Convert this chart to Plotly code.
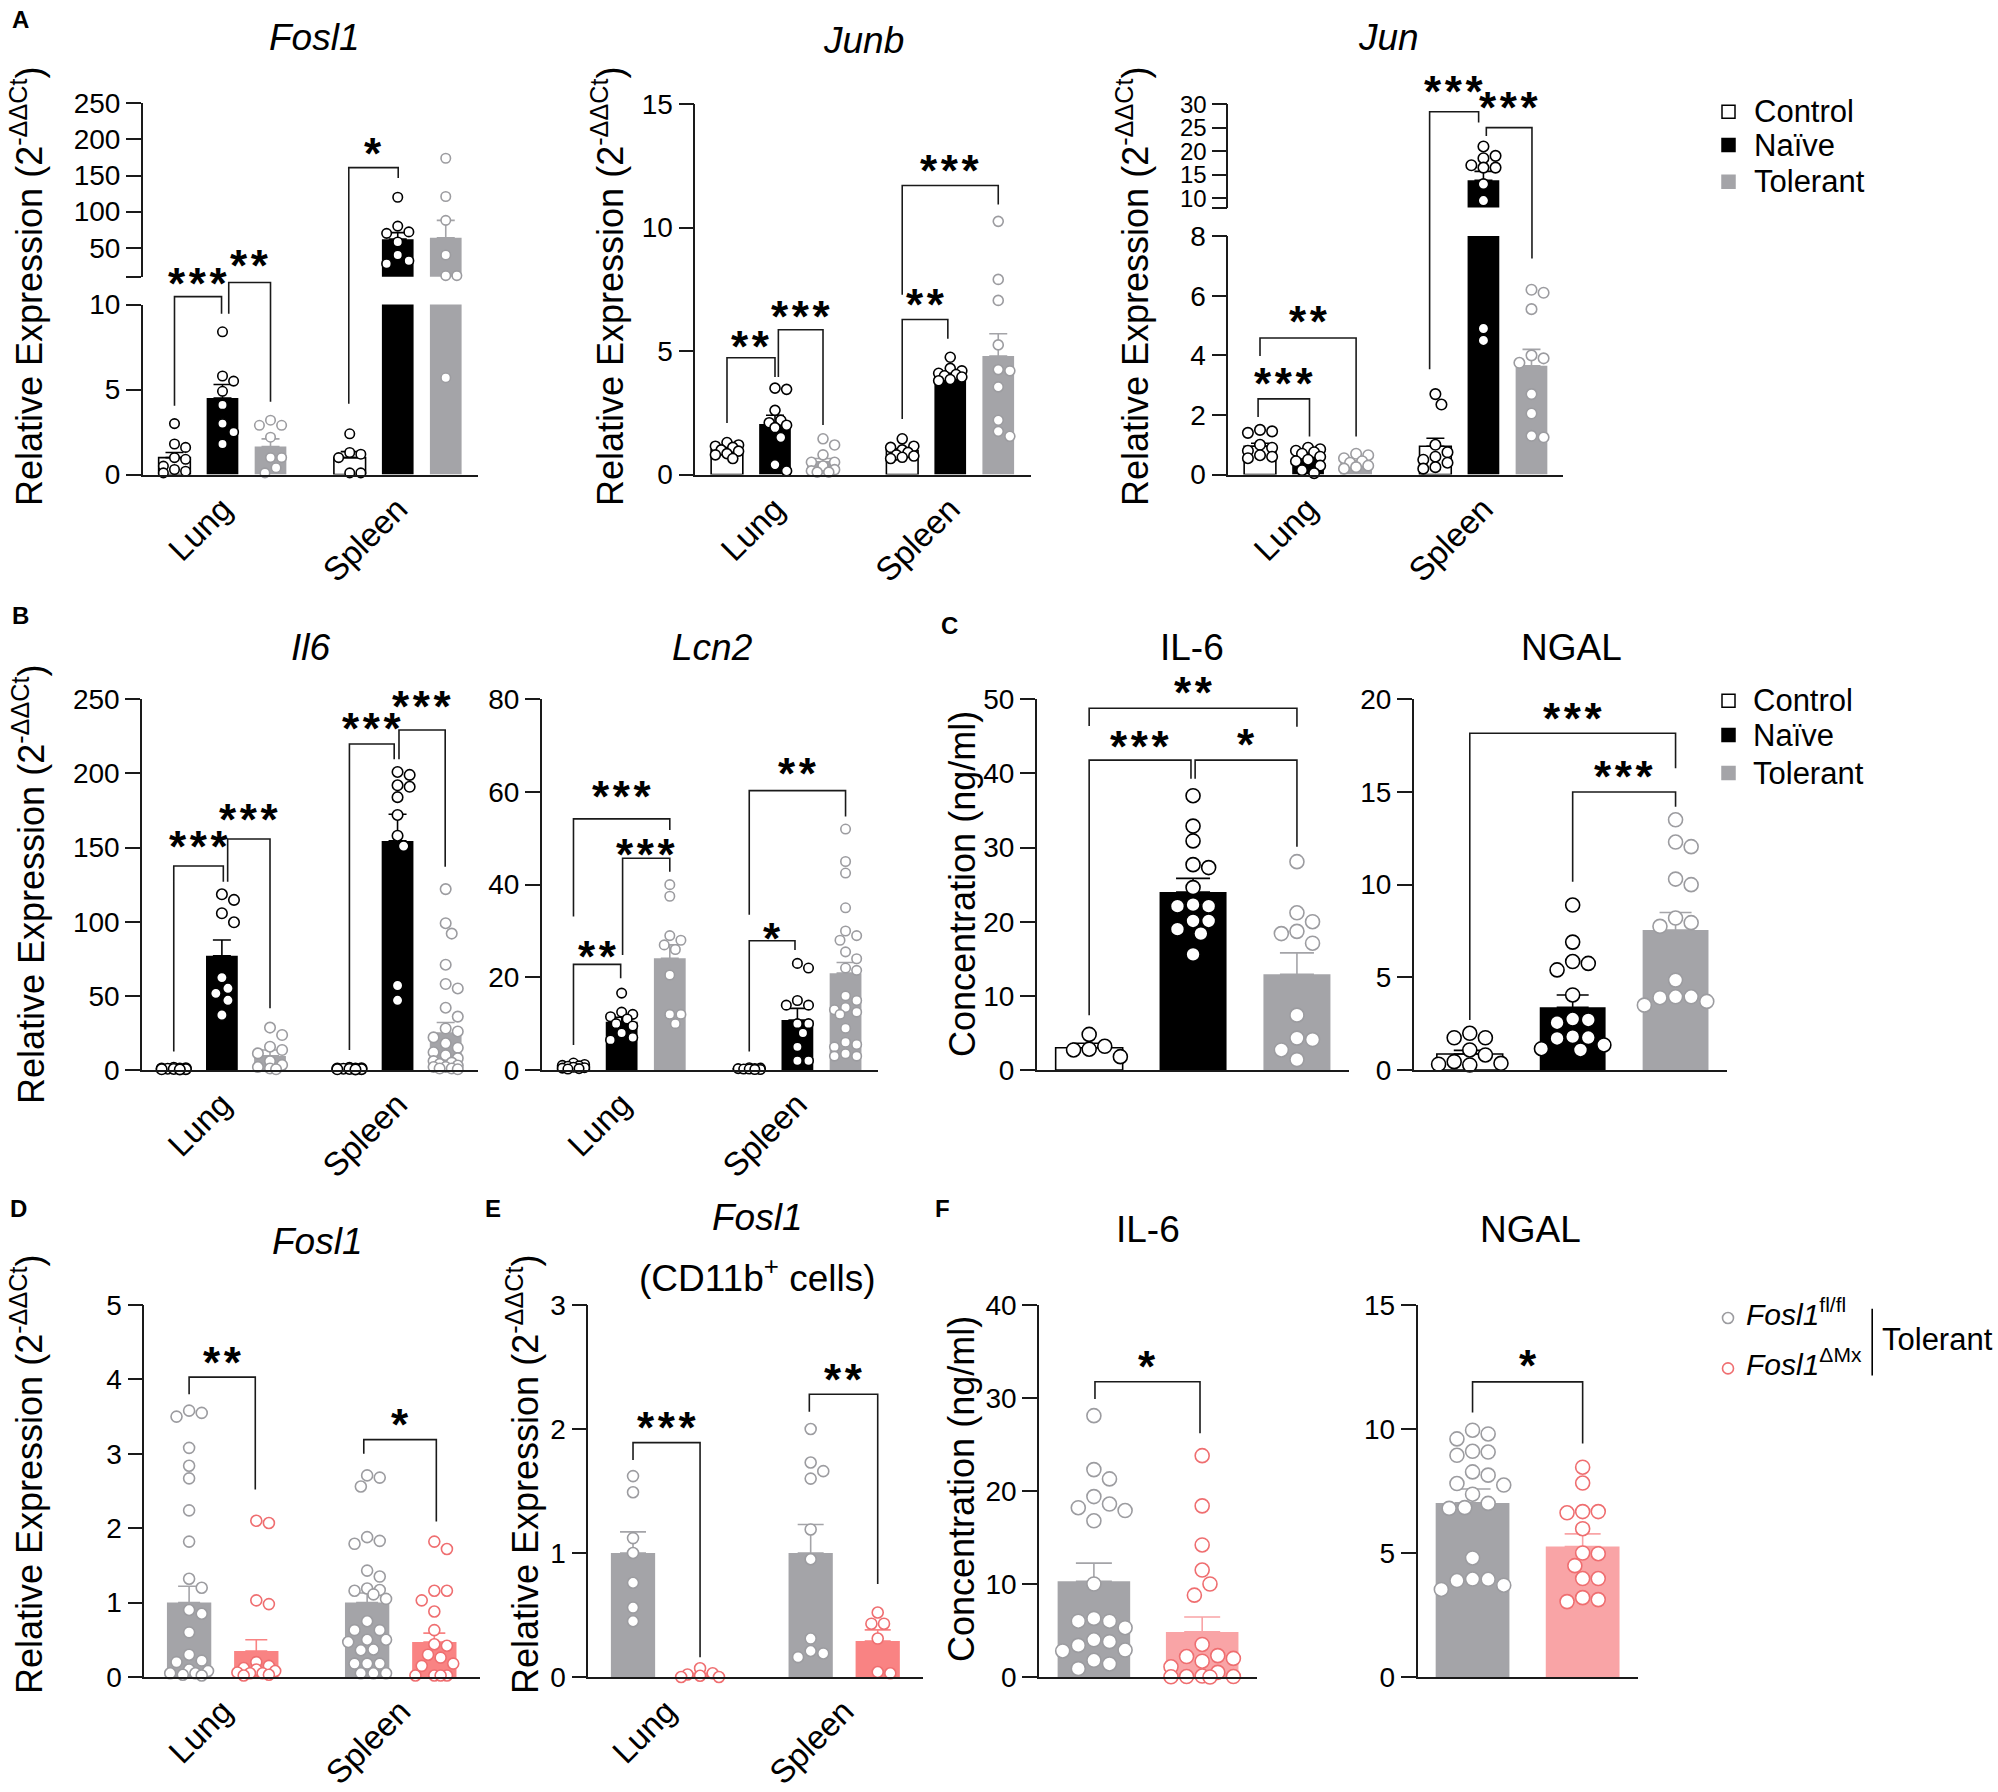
import plotly.graph_objects as go

W, H = 1998, 1792
FONT = "Liberation Sans, Arial, Helvetica, sans-serif"

# ============ values ============
# tissue panels: rows = [Lung, Spleen], columns = [Control, Naive, Tolerant]
fosl1_means = [[1.0, 4.5, 1.65], [1.0, 62.0, 64.0]]
fosl1_sems = [[0.3, 0.8, 0.45], [0.35, 9.0, 24.0]]
fosl1_lung_pts = [[3.0, 1.8, 1.6, 1.0, 0.9, 0.5, 0.3, 0.2, 0.1],
                  [8.4, 5.8, 5.5, 4.9, 4.1, 3.0, 2.5, 1.8],
                  [3.2, 2.9, 2.9, 2.2, 1.0, 1.0, 0.4, 0.1]]
fosl1_spleen_pts = [[2.4, 1.3, 1.2, 1.0, 0.1, 0.1],
                    [120, 80, 72, 70, 58, 40, 32, 28],
                    [174, 121, 88, 40, 11.5, 11.5, 5.7]]

junb_means = [[1.0, 2.05, 0.52], [0.97, 4.05, 4.8]]
junb_sems = [[0.08, 0.35, 0.13], [0.07, 0.1, 0.9]]
junb_lung_pts = [[1.3, 1.2, 1.15, 1.1, 1.0, 0.95, 0.85, 0.8, 0.65],
                 [3.5, 3.45, 2.6, 2.2, 2.1, 2.0, 1.9, 1.5, 0.4, 0.15],
                 [1.45, 1.2, 0.8, 0.5, 0.5, 0.35, 0.2, 0.15, 0.1, 0.1]]
junb_spleen_pts = [[1.45, 1.15, 1.1, 1.0, 0.9, 0.8, 0.75, 0.7, 0.65],
                   [4.75, 4.3, 4.2, 4.1, 4.05, 4.0, 3.95, 3.85, 3.8],
                   [10.25, 7.9, 7.05, 5.25, 4.25, 4.2, 3.55, 2.2, 1.75, 1.55]]

jun_means = [[0.95, 0.6, 0.4], [0.95, 13.8, 3.65]]
jun_sems = [[0.1, 0.08, 0.06], [0.27, 1.9, 0.55]]
jun_lung_pts = [[1.5, 1.45, 1.4, 1.0, 0.9, 0.8, 0.65, 0.6, 0.55],
                [0.9, 0.85, 0.8, 0.75, 0.7, 0.6, 0.5, 0.45, 0.3, 0.15, 0.05],
                [0.7, 0.65, 0.55, 0.45, 0.4, 0.3, 0.25, 0.2]]
jun_spleen_pts = [[2.7, 2.35, 1.0, 0.75, 0.6, 0.5, 0.4, 0.25, 0.2],
                  [21, 19, 18.5, 17, 16.5, 16.5, 13, 9.5, 4.9, 4.5],
                  [6.2, 6.1, 5.55, 4.0, 3.9, 3.75, 2.7, 2.05, 1.3, 1.25]]

il6_means = [[0.9, 77.0, 9.5], [0.8, 154.5, 25.0]]
il6_sems = [[0.2, 10.7, 4.0], [0.15, 18.0, 7.0]]
il6_lung_pts = [[1.5, 1.2, 1.0, 0.9, 0.8, 0.7, 0.6, 0.5, 0.4],
                [118.5, 114.7, 105.7, 99.6, 62.3, 55.1, 51.7, 47.0, 37.1],
                [28.6, 23.6, 15.7, 13.5, 11.2, 6.0, 3.4, 2.0, 1.0, 0.5]]
il6_spleen_pts = [[1.4, 1.1, 1.0, 0.9, 0.8, 0.7, 0.6, 0.5, 0.4],
                  [201, 199, 192, 191, 184, 172, 158, 151, 57, 47],
                  [122, 99, 92, 71, 58, 55, 42, 36, 28, 26, 22, 18, 15, 12, 10, 8, 6, 5, 4, 3, 2, 2, 1, 1, 0.5]]

lcn2_means = [[0.8, 10.4, 24.1], [0.25, 10.8, 20.9]]
lcn2_sems = [[0.15, 1.0, 2.9], [0.05, 2.5, 2.3]]
lcn2_lung_pts = [[1.5, 1.2, 1.0, 0.9, 0.8, 0.6, 0.5, 0.4, 0.3, 0.2],
                 [16.6, 12.5, 12.0, 11.5, 11.0, 10.0, 9.5, 8.0, 7.0, 6.5],
                 [40.0, 37.5, 29.0, 28.0, 27.0, 26.0, 20.5, 12.0, 12.0, 10.0]]
lcn2_spleen_pts = [[0.5, 0.4, 0.3, 0.3, 0.2, 0.2, 0.1, 0.1],
                   [23, 22, 15, 14, 14, 10, 10, 8, 5, 2, 2],
                   [52, 45, 42.5, 35, 30, 29, 28, 25.5, 24, 22, 21.5, 16, 15, 13.5, 13, 12.5, 12, 9, 6, 5.5, 5, 3.5, 3, 3]]

# serum panels (C): [Control, Naive, Tolerant]
il6_serum_means = [3.0, 24.0, 12.9]
il6_serum_sems = [0.6, 1.85, 2.9]
il6_serum_pts = [[4.8, 3.2, 2.8, 2.7, 1.8],
                 [37, 32.9, 30.9, 27.7, 27.3, 24.6, 22.3, 22.1, 22.1, 20.1, 20.1, 19.0, 18.4, 15.6],
                 [28.1, 21.2, 20.0, 18.7, 18.4, 17.1, 7.4, 4.3, 4.1, 2.7, 1.4]]
ngal_serum_means = [0.86, 3.38, 7.55]
ngal_serum_sems = [0.2, 0.67, 0.95]
ngal_serum_pts = [[1.98, 1.74, 1.74, 1.08, 0.81, 0.45, 0.36, 0.31, 0.27],
                  [8.9, 6.9, 5.85, 5.75, 5.4, 4.05, 2.75, 2.7, 2.55, 1.8, 1.75, 1.7, 1.35, 1.15, 1.08],
                  [13.5, 12.3, 12.05, 10.3, 10.0, 8.2, 7.95, 7.75, 4.85, 3.95, 3.95, 3.9, 3.7, 3.5]]

# D / E: rows = [Lung, Spleen], columns = [Fosl1 fl/fl, Fosl1 dMx]
d_fosl1_means = [[1.0, 0.35], [1.0, 0.47]]
d_fosl1_sems = [[0.22, 0.15], [0.13, 0.12]]
d_fosl1_lung_pts = [[3.58, 3.55, 3.5, 3.08, 2.84, 2.67, 2.24, 1.82, 1.32, 1.2, 0.9, 0.85, 0.6, 0.3, 0.22, 0.2,
                     0.1, 0.08, 0.05, 0.05, 0.03, 0.02],
                    [2.1, 2.07, 1.03, 0.98, 0.2, 0.15, 0.12, 0.1, 0.08, 0.06, 0.05, 0.05, 0.03, 0.02]]
d_fosl1_spleen_pts = [[2.71, 2.68, 2.56, 1.88, 1.83, 1.79, 1.43, 1.35, 1.19, 1.17, 1.16, 1.11, 1.05, 0.75, 0.63,
                       0.63, 0.5, 0.5, 0.47, 0.37, 0.36, 0.18, 0.18, 0.18, 0.05, 0.05, 0.05],
                      [1.82, 1.72, 1.16, 1.16, 1.03, 0.88, 0.63, 0.44, 0.42, 0.3, 0.26, 0.18, 0.15, 0.02, 0.02,
                       0.02, 0.02]]
e_fosl1_means = [[1.0, 0.02], [1.0, 0.29]]
e_fosl1_sems = [[0.17, 0.01], [0.23, 0.09]]
e_fosl1_lung_pts = [[1.62, 1.49, 1.12, 1.0, 0.76, 0.56, 0.45],
                    [0.07, 0.03, 0.02, 0.01, 0.0, 0.0]]
e_fosl1_spleen_pts = [[2.0, 1.73, 1.66, 1.6, 1.19, 0.95, 0.31, 0.21, 0.19, 0.16],
                      [0.52, 0.43, 0.43, 0.31, 0.04, 0.03]]

# F: [Fosl1 fl/fl, Fosl1 dMx]
f_il6_means = [10.3, 4.85]
f_il6_sems = [1.95, 1.6]
f_il6_pts = [[28.1, 22.3, 21.3, 19.4, 18.6, 18.2, 17.9, 16.8, 10.0, 6.3, 6.0, 6.0, 5.3, 4.0, 3.8, 3.4, 2.9, 2.8,
              1.8, 1.4, 0.9],
             [23.8, 18.4, 14.2, 11.5, 10.0, 8.8, 3.5, 2.3, 2.2, 2.0, 1.7, 1.1, 0.5, 0.1, 0.05, 0.05, 0.02, 0.0]]
f_ngal_means = [7.02, 5.26]
f_ngal_sems = [0.56, 0.51]
f_ngal_pts = [[9.95, 9.8, 9.6, 9.1, 9.07, 8.94, 8.27, 8.14, 7.8, 7.74, 7.37, 7.0, 6.83, 6.8, 4.8, 3.95, 3.94,
               3.89, 3.7, 3.53],
              [8.46, 7.82, 6.67, 6.67, 6.62, 5.98, 5.0, 4.97, 4.49, 3.97, 3.97, 3.2, 3.12, 3.04]]

# significance brackets: (x left, x right, top, left leg end, right leg end, stars, star level)
fosl1_sig = [(0, 0.98, 10.47, 4.05, 9.46, "***", 11.82), (1.13, 2.0, 11.3, 9.46, 4.28, "**", 12.9),
             (3.63, 4.66, 18.06, 4.17, 17.45, "*", 19.5)]
junb_sig = [(0, 1.0, 4.73, 2.09, 3.95, "**", 5.58), (1.07, 2.0, 5.86, 3.95, 2.01, "***", 6.82),
            (3.65, 4.6, 6.28, 2.25, 5.5, "**", 7.28), (3.65, 5.65, 11.7, 7.28, 10.93, "***", 12.7)]
jun_sig = [(-0.04, 1.03, 2.54, 1.93, 1.28, "***", 3.4), (0.0, 2.0, 4.58, 3.98, 1.28, "**", 5.46),
           (3.53, 4.55, 12.17, 3.53, 11.81, "***", 13.2), (4.71, 5.66, 11.64, 11.36, 7.25, "***", 12.64)]
il6_sig = [(0, 1.03, 137.6, 12.4, 127.0, "***", 157.4), (1.12, 2.0, 155.8, 127.0, 41.6, "***", 175.4),
           (3.65, 4.58, 219.9, 13.5, 209.5, "***", 237.2), (4.68, 5.64, 229.3, 209.5, 137.1, "***", 251.8)]
lcn2_sig = [(0, 0.98, 22.8, 5.4, 19.8, "**", 26.6), (1.02, 2.0, 45.7, 24.8, 42.8, "***", 48.6),
            (0, 2.0, 54.2, 33.1, 51.8, "***", 61.2), (3.65, 4.6, 27.9, 4.0, 25.9, "*", 30.6),
            (3.65, 5.65, 60.3, 33.5, 54.7, "**", 66.2)]
il6_serum_sig = [(0, 2.0, 48.8, 46.4, 46.3, "**", 52.2), (0, 0.98, 41.8, 7.4, 39.3, "***", 45.05),
                 (1.02, 2.0, 41.8, 39.3, 30.1, "*", 45.2)]
ngal_serum_sig = [(0, 2.0, 18.17, 2.7, 16.28, "***", 19.5), (1.0, 2.0, 15.0, 10.16, 14.2, "***", 16.37)]
d_sig = [(0, 0.985, 4.03, 3.8, 2.52, "**", 4.36), (2.6, 3.68, 3.19, 3.0, 2.09, "*", 3.53)]
e_sig = [(0, 1.0, 1.89, 1.75, 0.16, "***", 2.09), (2.63, 3.65, 2.28, 2.14, 0.75, "**", 2.48)]
f_il6_sig = [(0.01, 0.98, 31.75, 29.9, 26.2, "*", 34.5)]
f_ngal_sig = [(0, 1.0, 11.9, 10.67, 9.42, "*", 12.95)]

tissues = ["Lung", "Spleen"]

# ============ styling ============
GRAY = "#A4A4A8"
GRAY_PT = "#9C9CA0"
PINK = "#F98383"
PINK_LIGHT = "#F9A4A6"
PINK_PT = "#EF6E70"
LINE = "#1A1A1A"

# fill, edge/error colour, outline width, point outline
STYLES = {
    "ctrl": ("white", "black", 1.6, "black"),
    "naive": ("black", "black", 0, "black"),
    "tol": (GRAY, GRAY, 0, GRAY_PT),
    "dmx": (PINK, PINK, 0, PINK_PT),
    "dmxF": (PINK_LIGHT, PINK_LIGHT, 0, PINK_PT),
}

POS3 = [[0, 1, 2], [3.65, 4.65, 5.65]]
POS2 = [[0, 1], [2.65, 3.65]]
XR3 = [-0.66, 6.33]
XR2 = [-0.667, 4.33]

fig = go.Figure()
axes_layout = {}
shapes = []
annotations = []
n_axes = [0]


def make_axes(x0, x1, ybot, ytop, xr, yr):
    n_axes[0] += 1
    s = "" if n_axes[0] == 1 else str(n_axes[0])
    hidden = dict(showgrid=False, zeroline=False, showline=False, ticks="", showticklabels=False,
                  fixedrange=True, automargin=False)
    axes_layout["xaxis" + s] = dict(domain=[x0 / W, x1 / W], range=list(xr), anchor="y" + s, **hidden)
    axes_layout["yaxis" + s] = dict(domain=[1 - ybot / H, 1 - ytop / H], range=list(yr), anchor="x" + s,
                                    **hidden)
    return "x" + s, "y" + s, "xaxis" + s, "yaxis" + s


def swarm(vals, sx, ypx, d, max_px):
    # simple deterministic beeswarm: spread overlapping dots sideways
    order = sorted(range(len(vals)), key=lambda i: -vals[i])
    step = d * 0.5
    cands = [0.0]
    k = 1
    while k * step <= max_px:
        cands += [k * step, -k * step]
        k += 1
    placed = []
    offs = [0.0] * len(vals)
    for i in order:
        y = ypx(vals[i])

        def gap(c):
            return min([((c - a) ** 2 + (y - b) ** 2) ** 0.5 for a, b in placed], default=1e9)

        chosen = next((c for c in cands if gap(c) >= d * 0.95), None)
        if chosen is None:
            chosen = max(cands, key=gap)
        placed.append((chosen, y))
        offs[i] = chosen / sx
    return offs


def tissue_groups(means, sems, lung_pts, spleen_pts, styles, pos):
    return [dict(pos=[pos[0][g], pos[1][g]], mean=[means[0][g], means[1][g]], sem=[sems[0][g], sems[1][g]],
                 pts=[lung_pts[g], spleen_pts[g]], style=st) for g, st in enumerate(styles)]


def single_groups(means, sems, pts, styles):
    return [dict(pos=[g], mean=[means[g]], sem=[sems[g]], pts=[pts[g]], style=st)
            for g, st in enumerate(styles)]


def panel(x0, x1, xr, segs, groups, bar_w, msize, cap, sig, xticks=None, top_pad=85):
    # segs: (bottom px, top px, value range, tick values, tick texts[, tick font size]) from bottom up
    sx = (x1 - x0) / (xr[1] - xr[0])
    base = segs[0][0]

    def ypx(v):
        for i, seg in enumerate(segs):
            yb, yt, yr = seg[:3]
            if v <= yr[1] or i == len(segs) - 1:
                return (base - yb) + (max(v, yr[0]) - yr[0]) * (yb - yt) / (yr[1] - yr[0])

    d = msize + 1.6
    offsets = [[swarm(p, sx, ypx, d, bar_w * sx * 0.5) for p in g["pts"]] for g in groups]

    for i, seg in enumerate(segs):
        yb, yt, yr, tv, tt = seg[:5]
        fs = seg[5] if len(seg) > 5 else 28
        xa, ya, xk, yk = make_axes(x0, x1, yb, yt, xr, yr)
        axes_layout[yk].update(showline=True, linecolor=LINE, linewidth=1.6, ticks="outside", ticklen=15,
                               tickwidth=1.6, tickcolor=LINE, showticklabels=True, tickmode="array",
                               tickvals=tv, ticktext=tt if tt else [str(t) for t in tv],
                               tickfont=dict(family=FONT, size=fs, color="black"))
        if i == 0:
            axes_layout[xk].update(showline=True, linecolor=LINE, linewidth=1.6)
            if xticks:
                axes_layout[xk].update(showticklabels=True, tickmode="array", tickvals=xticks, ticktext=tissues,
                                       tickangle=-45, tickfont=dict(family=FONT, size=33, color="black"))
        lo = segs[i - 1][2][1] if i > 0 else -1e9
        hi = yr[1] if i < len(segs) - 1 else 1e9
        for g, offs in zip(groups, offsets):
            fill, edge, lw, ptc = STYLES[g["style"]]
            fig.add_trace(go.Bar(
                x=g["pos"], y=g["mean"], width=bar_w, xaxis=xa, yaxis=ya,
                marker=dict(color=fill, line=dict(color=edge, width=lw)),
                error_y=dict(type="data", symmetric=False, array=g["sem"], arrayminus=[0] * len(g["sem"]),
                             color=edge, thickness=1.6, width=cap),
                hoverinfo="skip", showlegend=False))
            xs, ys = [], []
            for pos, vals, off in zip(g["pos"], g["pts"], offs):
                for v, o in zip(vals, off):
                    if lo < v <= hi:
                        xs.append(pos + o)
                        ys.append(v)
            fig.add_trace(go.Scatter(
                x=xs, y=ys, mode="markers", xaxis=xa, yaxis=ya, cliponaxis=False,
                marker=dict(symbol="circle", size=msize, color="white", line=dict(color=ptc, width=1.6)),
                hoverinfo="skip", showlegend=False))

    # overlay axis (same units as the lowest segment) for the significance brackets
    yb0, yt0, yr0 = segs[0][:3]
    ppu = (yb0 - yt0) / (yr0[1] - yr0[0])
    top = min(s[1] for s in segs) - top_pad
    xa, ya, _, _ = make_axes(x0, x1, yb0, top, xr, [yr0[0], yr0[0] + (yb0 - top) / ppu])
    for xl, xrr, ytop, yl, yrr, stars, ylab in sig:
        shapes.append(dict(type="path", xref=xa, yref=ya, layer="above",
                           path=f"M{xl},{yl} L{xl},{ytop} L{xrr},{ytop} L{xrr},{yrr}",
                           line=dict(color=LINE, width=1.6)))
        annotations.append(dict(xref=xa, yref=ya, x=(xl + xrr) / 2, y=ylab, showarrow=False,
                                xanchor="center", yanchor="middle",
                                text="<b>" + "\u200a".join(stars) + "</b>", yshift=-10,
                                font=dict(family=FONT, size=44, color="black")))


CTL3 = ["ctrl", "naive", "tol"]

# ---- A ----
panel(142.8, 478.4, XR3,
      [(474.6, 304.6, [0, 10], [0, 5, 10], None),
       (276.7, 103.3, [10, 250], [10, 50, 100, 150, 200, 250], ["", "50", "100", "150", "200", "250"])],
      tissue_groups(fosl1_means, fosl1_sems, fosl1_lung_pts, fosl1_spleen_pts, CTL3, POS3),
      0.66, 9.5, 9, fosl1_sig, xticks=[1, 4.65])
panel(695.3, 1030.9, XR3, [(474.6, 104.0, [0, 15], [0, 5, 10, 15], None)],
      tissue_groups(junb_means, junb_sems, junb_lung_pts, junb_spleen_pts, CTL3, POS3),
      0.66, 10, 9, junb_sig, xticks=[1, 4.65])
panel(1228.3, 1563.2, [-0.66, 6.31],
      [(474.6, 236.1, [0, 8], [0, 2, 4, 6, 8], None),
       (207.6, 104.1, [8, 30], [8, 10, 15, 20, 25, 30], ["", "10", "15", "20", "25", "30"], 24)],
      tissue_groups(jun_means, jun_sems, jun_lung_pts, jun_spleen_pts, CTL3, POS3),
      0.66, 10.5, 9, jun_sig, xticks=[1, 4.65])

# ---- B ----
panel(142.0, 478.4, XR3, [(1070, 699.3, [0, 250], [0, 50, 100, 150, 200, 250], None)],
      tissue_groups(il6_means, il6_sems, il6_lung_pts, il6_spleen_pts, CTL3, POS3),
      0.66, 10.5, 9, il6_sig, xticks=[1, 4.65])
panel(541.7, 878.3, XR3, [(1070, 699.3, [0, 80], [0, 20, 40, 60, 80], None)],
      tissue_groups(lcn2_means, lcn2_sems, lcn2_lung_pts, lcn2_spleen_pts, CTL3, POS3),
      0.66, 9.5, 9, lcn2_sig, xticks=[1, 4.65])

# ---- C ----
panel(1036.7, 1349.4, [-0.505, 2.505], [(1070, 699.3, [0, 50], [0, 10, 20, 30, 40, 50], None)],
      single_groups(il6_serum_means, il6_serum_sems, il6_serum_pts, CTL3),
      0.645, 14, 17, il6_serum_sig)
panel(1413.7, 1727.0, [-0.545, 2.5], [(1070, 699.3, [0, 20], [0, 5, 10, 15, 20], None)],
      single_groups(ngal_serum_means, ngal_serum_sems, ngal_serum_pts, CTL3),
      0.64, 14, 16, ngal_serum_sig)

# ---- D / E ----
panel(144.3, 480.0, XR2, [(1677, 1305, [0, 5], [0, 1, 2, 3, 4, 5], None)],
      tissue_groups(d_fosl1_means, d_fosl1_sems, d_fosl1_lung_pts, d_fosl1_spleen_pts, ["tol", "dmx"], POS2),
      0.66, 11, 11, d_sig, xticks=[0.5, 3.15])
panel(588.3, 923.3, XR2, [(1677, 1305, [0, 3], [0, 1, 2, 3], None)],
      tissue_groups(e_fosl1_means, e_fosl1_sems, e_fosl1_lung_pts, e_fosl1_spleen_pts, ["tol", "dmx"], POS2),
      0.66, 11, 13, e_sig, xticks=[0.5, 3.15])

# ---- F ----
panel(1039.1, 1257.4, [-0.506, 1.51], [(1677, 1305, [0, 40], [0, 10, 20, 30, 40], None)],
      single_groups(f_il6_means, f_il6_sems, f_il6_pts, ["tol", "dmxF"]),
      0.67, 14, 18, f_il6_sig)
panel(1417.5, 1637.7, [-0.5, 1.5], [(1677, 1305, [0, 15], [0, 5, 10, 15], None)],
      single_groups(f_ngal_means, f_ngal_sems, f_ngal_pts, ["tol", "dmxF"]),
      0.67, 14, 18, f_ngal_sig)


def text(t, x, y, size, xanchor="center", **kw):
    annotations.append(dict(xref="paper", yref="paper", x=x / W, y=1 - y / H, text=t, showarrow=False,
                            xanchor=xanchor, yanchor="middle",
                            font=dict(family=FONT, size=size, color="black"), **kw))


# panel letters
for lab, x, y in [("A", 20, 19), ("B", 20, 615), ("C", 949, 625), ("D", 18, 1208), ("E", 493, 1208),
                  ("F", 942, 1208)]:
    text(f"<b>{lab}</b>", x, y, 24)

# panel titles
for t, x, y in [("<i>Fosl1</i>", 314, 38), ("<i>Junb</i>", 863, 40), ("<i>Jun</i>", 1388, 38),
                ("<i>Il6</i>", 311, 648), ("<i>Lcn2</i>", 712, 648), ("IL-6", 1192, 648), ("NGAL", 1571, 647),
                ("<i>Fosl1</i>", 317, 1241), ("<i>Fosl1</i>", 757, 1217), ("(CD11b<sup>+</sup> cells)", 757, 1275),
                ("IL-6", 1148, 1229), ("NGAL", 1530, 1229)]:
    text(t, x, y, 37)

# y-axis titles
REL = "Relative Expression (2<sup>-ΔΔCt</sup>)"
CONC = "Concentration (ng/ml)"
for t, x, y in [(REL, 27, 287), (REL, 608, 287), (REL, 1133, 287), (REL, 29, 885), (CONC, 962, 884),
                (REL, 27, 1475), (REL, 523, 1475), (CONC, 961, 1489)]:
    text(t, x, y, 36, textangle=-90)


def box(cx, cy, s, fill, edge, kind="rect", lw=1.5):
    shapes.append(dict(type=kind, xref="paper", yref="paper", x0=(cx - s / 2) / W, x1=(cx + s / 2) / W,
                       y0=1 - (cy + s / 2) / H, y1=1 - (cy - s / 2) / H, fillcolor=fill,
                       line=dict(color=edge, width=lw)))


# legends for Control / Naive / Tolerant
for cy_list, tx in [([111.7, 145.0, 181.7], 1751.7), ([700.7, 735.0, 773.0], 1751.3)]:
    for (fill, edge), cy, name in zip([("white", "black"), ("black", "black"), (GRAY, GRAY)], cy_list,
                                      ["Control", "Naïve", "Tolerant"]):
        box(1728.5, cy, 13, fill, edge)
        text(name, tx, cy, 31, xanchor="left")

# legend for the Fosl1 genotypes
box(1728, 1318, 11, "white", GRAY_PT, kind="circle", lw=1.6)
box(1728, 1368.4, 11, "white", PINK_PT, kind="circle", lw=1.6)
text("<i>Fosl1</i><sup>fl/fl</sup>", 1743.6, 1312, 30, xanchor="left")
text("<i>Fosl1</i><sup>ΔMx</sup>", 1743.6, 1362, 30, xanchor="left")
shapes.append(dict(type="line", xref="paper", yref="paper", x0=1872.2 / W, x1=1872.2 / W,
                   y0=1 - 1375.5 / H, y1=1 - 1308.8 / H, line=dict(color="black", width=1.6)))
text("Tolerant", 1879.9, 1339.8, 31, xanchor="left")

fig.update_layout(axes_layout)
fig.update_layout(
    width=W, height=H, margin=dict(l=0, r=0, t=0, b=0, autoexpand=False),
    paper_bgcolor="white", plot_bgcolor="rgba(0,0,0,0)",
    barmode="overlay", showlegend=False,
    font=dict(family=FONT, color="black"),
    shapes=shapes, annotations=annotations,
)

fig.write_html("out.html", config={"displayModeBar": False},
               post_script="document.body.style.margin='0px';")
